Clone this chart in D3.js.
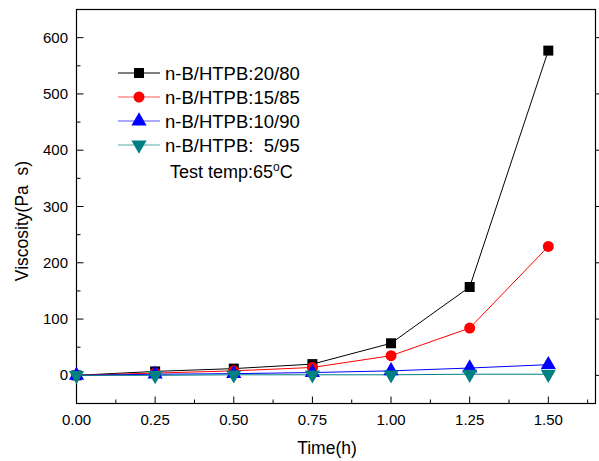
<!doctype html>
<html lang="en">
<head>
<meta charset="utf-8">
<title>Viscosity vs time</title>
<style>
  body { margin: 0; background: #fff; }
  svg text { font-family: "Liberation Sans", Arial, sans-serif; fill: #000; }
</style>
</head>
<body>
<svg id="chart"></svg>
<script src="https://d3js.org/d3.v7.min.js"></script>
<script>
// data
var times = [0, 0.25, 0.5, 0.75, 1.0, 1.25, 1.5];
var visc2080 = [0, 7, 12, 20, 57, 157, 577];
var visc1585 = [0, 4, 8, 14, 35, 84, 229];
var visc1090 = [0, 2, 3, 5, 8, 13, 19];
var visc0595 = [0, 0, 1, 1, 1, 2, 2];
var seriesNames = ["n-B/HTPB:20/80", "n-B/HTPB:15/85", "n-B/HTPB:10/90", "n-B/HTPB:  5/95"];
var xTicks = [0, 0.25, 0.5, 0.75, 1.0, 1.25, 1.5];
var yTicks = [0, 100, 200, 300, 400, 500, 600];

var width = 599, height = 461;
// plot box (window.top is reserved, so use other names)
var padL = 76.5, padR = 595.5, padT = 9.5, padB = 403.5;

var svg = d3.select("#chart").attr("width", width).attr("height", height);

var x = d3.scaleLinear().domain([0, 1.65]).range([padL, padR]);
var y = d3.scaleLinear().domain([-50, 650]).range([padB, padT]);

var series = [
  {name: seriesNames[0], values: visc2080, color: "#000000", legendLine: "#000000", shape: d3.symbolSquare, size: 100},
  {name: seriesNames[1], values: visc1585, color: "#ff0000", legendLine: "#ff5555", shape: d3.symbolCircle, size: 95},
  {name: seriesNames[2], values: visc1090, color: "#0000ff", legendLine: "#5555ff", shape: d3.symbolTriangle, size: 100},
  {name: seriesNames[3], values: visc0595, color: "#008080", legendLine: "#55aaaa", shape: "down", size: 100}
];

function markerPath(s) {
  if (s.shape === "down") {
    // downward triangle, rotated when placed
    return d3.symbol().type(d3.symbolTriangle).size(s.size)();
  }
  return d3.symbol().type(s.shape).size(s.size)();
}

//frame
svg.append("rect")
  .attr("x", padL).attr("y", padT)
  .attr("width", padR - padL).attr("height", padB - padT)
  .attr("fill", "none").attr("stroke", "#000").attr("stroke-width", 1.2);

//x axis ticks (inward)
var xMinor = d3.range(0, 1.65, 0.125);
svg.append("g").selectAll("line").data(xMinor).enter().append("line")
  .attr("x1", d => x(d)).attr("x2", d => x(d))
  .attr("y1", padB).attr("y2", (d, i) => i % 2 === 0 ? padB - 7 : padB - 4)
  .attr("stroke", "#000");
svg.append("g").selectAll("text").data(xTicks).enter().append("text")
  .attr("x", d => x(d)).attr("y", 425)
  .attr("text-anchor", "middle").attr("font-size", 15)
  .text(d => d.toFixed(2));

//y axis ticks (inward)
var yMinor = d3.range(-50, 651, 50);
svg.append("g").selectAll("line").data(yMinor).enter().append("line")
  .attr("x1", padL).attr("x2", d => d % 100 === 0 ? padL + 7 : padL + 4)
  .attr("y1", d => y(d)).attr("y2", d => y(d))
  .attr("stroke", "#000");
svg.append("g").selectAll("line").data(yTicks).enter().append("line")
  .attr("x1", padR).attr("x2", padR + 4)
  .attr("y1", d => y(d)).attr("y2", d => y(d))
  .attr("stroke", "#000");
svg.append("g").selectAll("text").data(yTicks).enter().append("text")
  .attr("x", 68).attr("y", d => y(d) + 5)
  .attr("text-anchor", "end").attr("font-size", 15)
  .text(d => d);

//axis titles
svg.append("text")
  .attr("x", 327).attr("y", 454)
  .attr("text-anchor", "middle").attr("font-size", 17.5)
  .text("Time(h)");
svg.append("text")
  .attr("transform", "translate(28," + 221 + ") rotate(-90)")
  .attr("text-anchor", "middle").attr("font-size", 17.5)
  .style("white-space", "pre")
  .text("Viscosity(Pa  s)");

//lines and markers
var line = d3.line().x((d, i) => x(times[i])).y(d => y(d));
series.forEach(function(s) {
  svg.append("path")
    .attr("d", line(s.values))
    .attr("fill", "none").attr("stroke", s.color).attr("stroke-width", 1);
});
series.forEach(function(s) {
  svg.append("g").selectAll("path").data(s.values).enter().append("path")
    .attr("d", markerPath(s))
    .attr("transform", function(d, i) {
      var t = "translate(" + x(times[i]) + "," + y(d) + ")";
      return s.shape === "down" ? t + " rotate(180)" : t;
    })
    .attr("fill", s.color);
});

//legend
var legendY = [73, 97, 121, 145];
series.forEach(function(s, i) {
  var g = svg.append("g").attr("transform", "translate(0," + legendY[i] + ")");
  g.append("line").attr("x1", 118).attr("x2", 160).attr("y1", 0).attr("y2", 0)
    .attr("stroke", s.legendLine).attr("stroke-width", 1.2);
  g.append("path").attr("d", markerPath(s))
    .attr("transform", "translate(139,0)" + (s.shape === "down" ? " rotate(180)" : ""))
    .attr("fill", s.color);
  g.append("text").attr("x", 165).attr("y", 6.5).attr("font-size", 18.5)
    .style("white-space", "pre")
    .text(s.name);
});
var tt = svg.append("text").attr("x", 170).attr("y", 178).attr("font-size", 18);
tt.append("tspan").text("Test temp:65");
tt.append("tspan").attr("dy", -7).attr("font-size", 12).text("o");
tt.append("tspan").attr("dy", 7).text("C");
</script>
</body>
</html>
